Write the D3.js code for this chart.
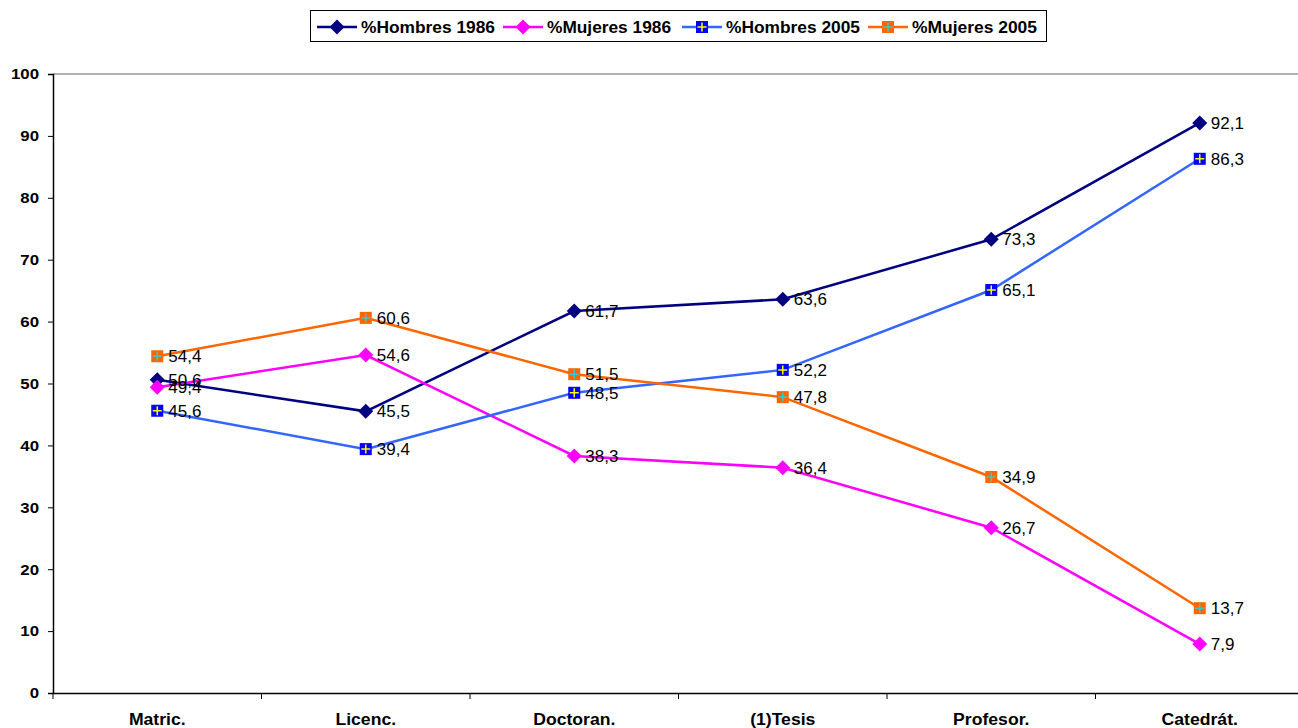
<!DOCTYPE html>
<html>
<head>
<meta charset="utf-8">
<script src="https://d3js.org/d3.v7.min.js"></script>
<style>
body { margin: 0; background: #fff; }
svg { font-family: Arial, "Liberation Sans", sans-serif; }
</style>
</head>
<body>
<svg width="1298" height="728"></svg>
<script>
var categories = ["Matric.", "Licenc.", "Doctoran.", "(1)Tesis", "Profesor.", "Catedrát."];
var hombres1986 = [50.6, 45.5, 61.7, 63.6, 73.3, 92.1];
var mujeres1986 = [49.4, 54.6, 38.3, 36.4, 26.7, 7.9];
var hombres2005 = [45.6, 39.4, 48.5, 52.2, 65.1, 86.3];
var mujeres2005 = [54.4, 60.6, 51.5, 47.8, 34.9, 13.7];
var yTicks = [0, 10, 20, 30, 40, 50, 60, 70, 80, 90, 100];

var series = [
  {name: "%Hombres 1986", values: hombres1986, line: "#000080", marker: "diamond", fill: "#000080"},
  {name: "%Mujeres 1986", values: mujeres1986, line: "#ff00ff", marker: "diamond", fill: "#ff00ff"},
  {name: "%Hombres 2005", values: hombres2005, line: "#3366ff", marker: "square", fill: "#0000ff", plus: "#ffff00"},
  {name: "%Mujeres 2005", values: mujeres2005, line: "#ff6600", marker: "square", fill: "#ff6600", plus: "#33cccc"}
];

var svg = d3.select("svg");
var plotLeft = 53, plotRight = 1304, plotTop = 74, plotBottom = 693;

var x = d3.scaleBand().domain(categories).range([plotLeft, plotRight]);
var y = d3.scaleLinear().domain([0, 100]).range([plotBottom, plotTop]);

// widen text a little, the original font is drawn wider than Arial
function stretch(sel, k) {
  sel.each(function () {
    var w = this.getComputedTextLength();
    d3.select(this).attr("textLength", w * k).attr("lengthAdjust", "spacingAndGlyphs");
  });
}

// top border line at 100
svg.append("line")
    .attr("x1", plotLeft).attr("x2", 1298)
    .attr("y1", y(100)).attr("y2", y(100))
    .attr("stroke", "#999").attr("stroke-width", 1.5);

var yAxis = svg.append("g")
    .attr("transform", "translate(" + plotLeft + ",0)")
    .call(d3.axisLeft(y).tickValues(yTicks).tickSize(5).tickPadding(9));
yAxis.select(".domain").attr("stroke", "#000").attr("stroke-width", 1.5);
yAxis.selectAll(".tick line").attr("stroke", "#000");
yAxis.selectAll("text").attr("font-size", 15).attr("font-weight", "bold")
    .attr("font-family", "Arial, 'Liberation Sans', sans-serif").attr("fill", "#000")
    .call(stretch, 1.12);

var xAxis = svg.append("g")
    .attr("transform", "translate(0," + plotBottom + ")")
    .call(d3.axisBottom(x).tickSize(0).tickPadding(21));
xAxis.select(".domain").attr("stroke", "#000").attr("stroke-width", 1.5);
xAxis.selectAll("text").attr("font-size", 16).attr("font-weight", "bold")
    .attr("font-family", "Arial, 'Liberation Sans', sans-serif").attr("fill", "#000")
    .call(stretch, 1.1);

// category separator ticks
svg.selectAll(".sep")
    .data(categories)
    .enter().append("line")
    .attr("x1", function (d) { return x(d); })
    .attr("x2", function (d) { return x(d); })
    .attr("y1", plotBottom).attr("y2", plotBottom + 6)
    .attr("stroke", "#000").attr("stroke-width", 1);

function cx(i) { return x(categories[i]) + x.bandwidth() / 2; }

function drawMarker(g, s, px, py) {
  if (s.marker === "diamond") {
    g.append("path")
        .attr("d", "M" + px + "," + (py - 7.5) + "L" + (px + 7.5) + "," + py + "L" + px + "," + (py + 7.5) + "L" + (px - 7.5) + "," + py + "Z")
        .attr("fill", s.fill);
  } else {
    g.append("rect")
        .attr("x", px - 6).attr("y", py - 6).attr("width", 12).attr("height", 12)
        .attr("fill", s.fill);
    g.append("path")
        .attr("d", "M" + (px - 4.5) + "," + py + "H" + (px + 4.5) + "M" + px + "," + (py - 4.5) + "V" + (py + 4.5))
        .attr("stroke", s.plus).attr("stroke-width", 1.5);
  }
}

var line = d3.line()
    .x(function (d, i) { return cx(i); })
    .y(function (d) { return y(d); });

series.forEach(function (s) {
  var g = svg.append("g");
  g.append("path")
      .attr("d", line(s.values))
      .attr("fill", "none")
      .attr("stroke", s.line)
      .attr("stroke-width", 2.5);
  s.values.forEach(function (v, i) {
    drawMarker(g, s, cx(i), y(v));
  });
});

// data labels
series.forEach(function (s) {
  svg.append("g").selectAll("text")
      .data(s.values)
      .enter().append("text")
      .attr("x", function (d, i) { return cx(i) + 11; })
      .attr("y", function (d) { return y(d); })
      .attr("dy", "0.36em")
      .attr("font-size", 17)
      .attr("fill", "#000")
      .text(function (d) { return d3.format(".1f")(d).replace(".", ","); });
});

// legend
var legend = svg.append("g");
legend.append("rect")
    .attr("x", 310.5).attr("y", 10.5).attr("width", 736).attr("height", 31)
    .attr("fill", "#fff").attr("stroke", "#000").attr("stroke-width", 1);
var legendX = [317, 503, 682, 868];
var legendW = [134, 124, 134, 125];
series.forEach(function (s, i) {
  var lx = legendX[i], ly = 27;
  var g = legend.append("g");
  g.append("line")
      .attr("x1", lx).attr("x2", lx + 40)
      .attr("y1", ly).attr("y2", ly)
      .attr("stroke", s.line).attr("stroke-width", 2.5);
  drawMarker(g, s, lx + 20, ly);
  g.append("text")
      .attr("x", lx + 44).attr("y", ly).attr("dy", "0.36em")
      .attr("font-size", 16).attr("font-weight", "bold")
      .attr("textLength", legendW[i]).attr("lengthAdjust", "spacingAndGlyphs")
      .text(s.name);
});
</script>
</body>
</html>
